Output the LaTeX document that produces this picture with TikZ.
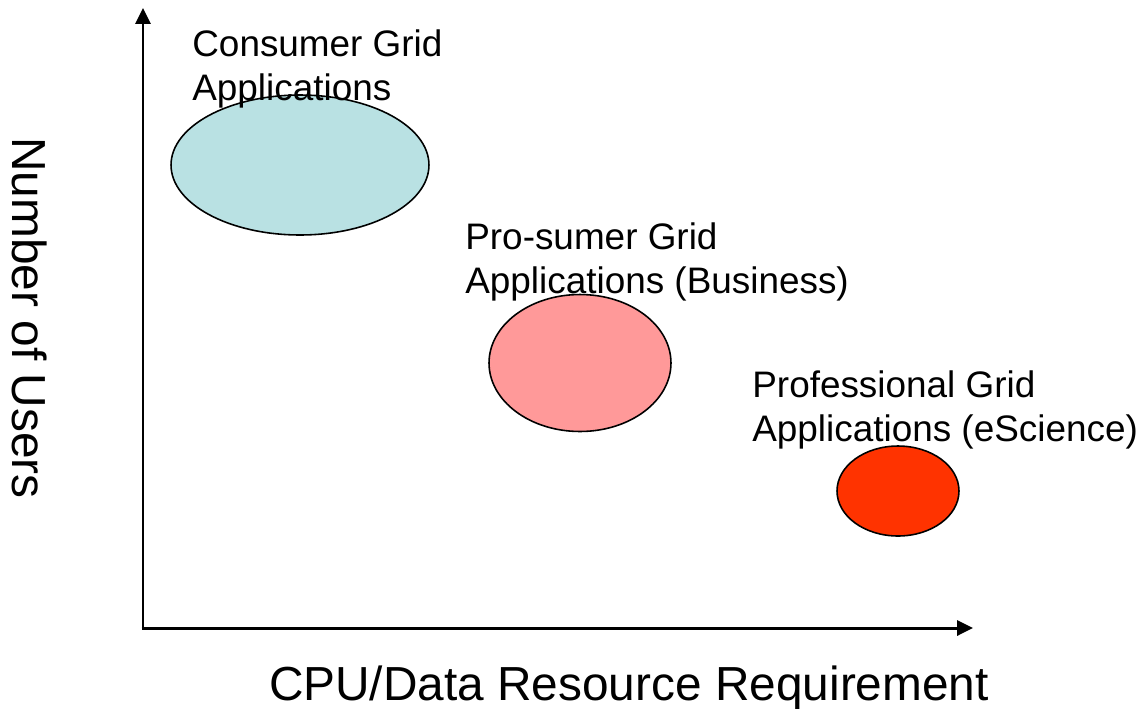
\documentclass[tikz,border=0pt]{standalone}
\usepackage{fontspec}
\setmainfont{Liberation Sans}
\usetikzlibrary{arrows.meta,shapes.geometric}
\definecolor{consumer}{HTML}{B9E1E3}
\definecolor{prosumer}{HTML}{FF9999}
\definecolor{professional}{HTML}{FF3300}
\tikzset{
  axis/.style={line width=1.7pt,-{Triangle[length=9pt,width=8.5pt]}},
  blob/.style={ellipse,draw=black,line width=0.9pt,inner sep=0pt},
  lbl/.style={anchor=base west,align=left,inner sep=0pt,
    font=\fontsize{21}{24.8}\selectfont},
  axlbl/.style={inner sep=0pt,font=\fontsize{27.2}{32}\selectfont}
}
\begin{document}
\begin{tikzpicture}[x=0.02cm,y=-0.02cm]
  \useasboundingbox (0,0) rectangle (1144,708);
  % axes
  \coordinate (origin) at (143,628);
  \coordinate (ytip) at (143,8);
  \coordinate (xtip) at (973,628);
  \draw[axis] ([yshift=-0.85pt]origin) -- (ytip);
  \draw[axis] ([xshift=-0.85pt]origin) -- (xtip);
  % application classes
  \node[blob,fill=consumer,minimum width=5.16cm,minimum height=2.8cm] (consumer) at (300,165) {};
  \node[blob,fill=prosumer,minimum width=3.64cm,minimum height=2.74cm] (prosumer) at (580,363) {};
  \node[blob,fill=professional,minimum width=2.44cm,minimum height=1.8cm] (professional) at (898,491) {};
  % labels (anchored at the baseline of their last line)
  \node[lbl] (consumerlbl) at (192,100) {Consumer Grid\\Applications};
  \node[lbl] (prosumerlbl) at (465,293) {Pro-sumer Grid\\Applications (Business)};
  \node[lbl] (professionallbl) at (752,441) {Professional Grid\\Applications (eScience)};
  % axis titles
  \node[axlbl,anchor=base] (xlbl) at (629,700) {CPU/Data Resource Requirement};
  \node[axlbl,rotate=-90] (ylbl) at (30,318) {Number of Users};
\end{tikzpicture}
\end{document}
